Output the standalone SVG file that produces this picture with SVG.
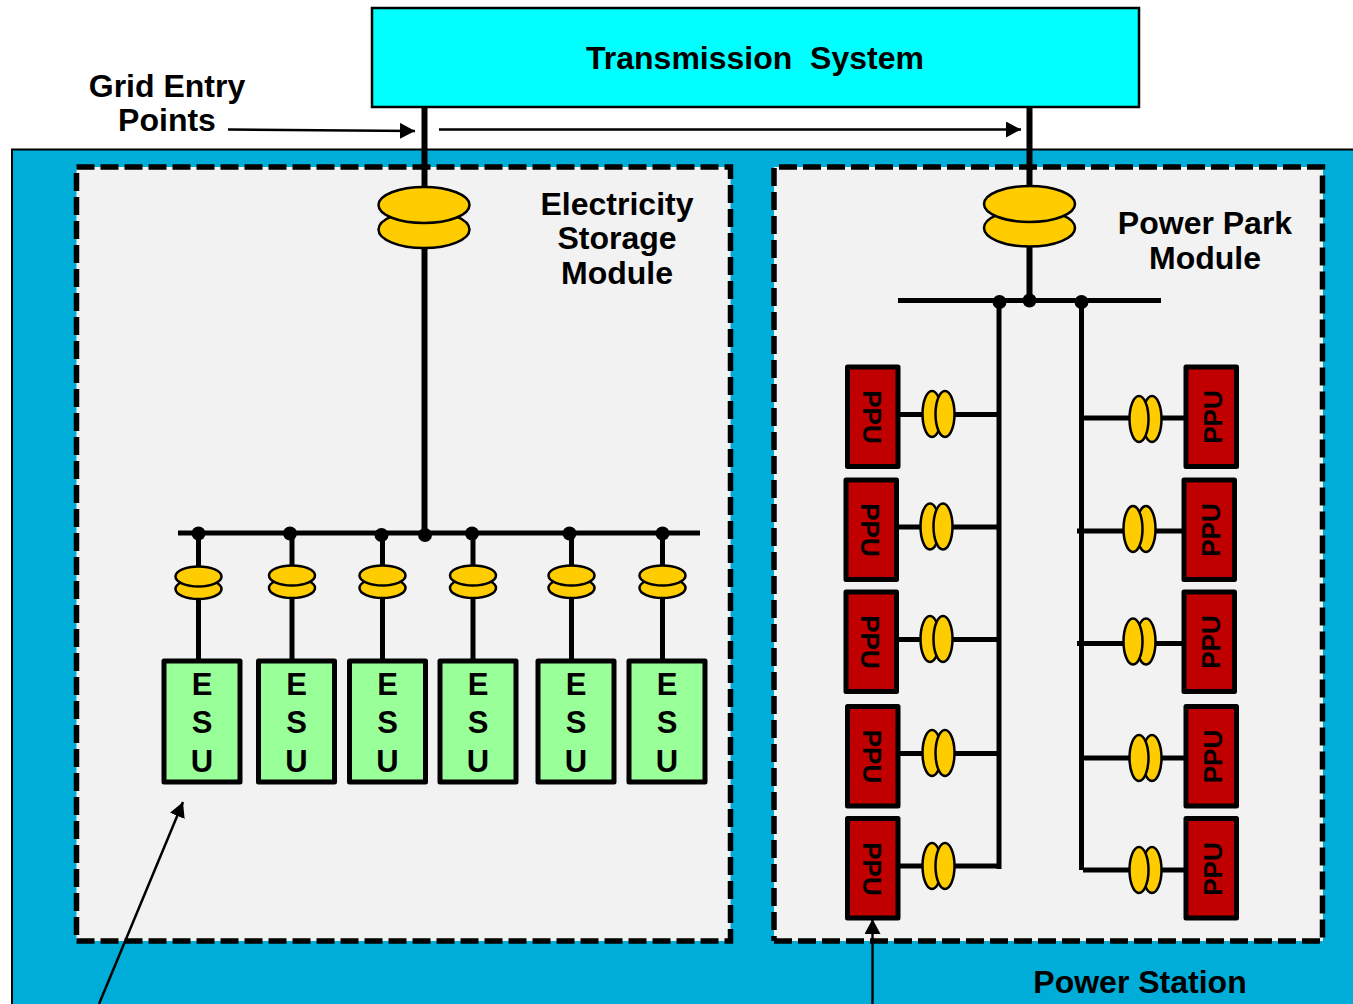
<svg xmlns="http://www.w3.org/2000/svg" width="1353" height="1004" viewBox="0 0 1353 1004">
<style>
text{font-family:"Liberation Sans",Arial,sans-serif;font-weight:700;fill:#000;text-anchor:middle}
.lbl{font-size:32px}
.esu{fill:#99ff99;stroke:#000;stroke-width:5;stroke-linejoin:round}
.ppu{fill:#c00000;stroke:#000;stroke-width:5;stroke-linejoin:round}
.esut{font-size:31px}
.ppt{font-size:26px}
.xf{fill:#ffcc00;stroke:#000;stroke-width:2.5}
.bus{stroke:#000;stroke-width:5;fill:none}
.thin{stroke:#000;stroke-width:2.4;fill:none}
.mod{fill:#f2f2f2;stroke:#000;stroke-width:5.5;stroke-dasharray:18 6}
.edge{fill:none;stroke:#000;stroke-width:5.5;stroke-dasharray:18 6}
</style>
<defs>
<marker id="ah" markerUnits="userSpaceOnUse" markerWidth="16" markerHeight="16" refX="15" refY="8" orient="auto"><path d="M0 0L15 8L0 16Z" fill="#000"/></marker>
</defs>
<rect width="1353" height="1004" fill="#fff"/>
<g id="power-station"><rect x="12" y="149.500" width="1360" height="880" fill="#00acd8" stroke="#000" stroke-width="2"/></g>
<g id="electricity-storage-module"><rect class="mod" x="76.500" y="167" width="654" height="774"/></g>
<g id="power-park-module"><rect x="774" y="167" width="549" height="774" fill="#f2f2f2"/>
<path class="edge" d="M779 167H1322.500V941H774"/><path class="edge" d="M774 930V168"/><path class="edge" d="M774 941V936"/></g>
<g id="transmission-system"><rect x="372" y="8" width="767" height="99" fill="#00ffff" stroke="#000" stroke-width="2.5"/>
<text class="lbl" x="755" y="69" xml:space="preserve">Transmission  System</text></g>
<g id="connectors">
<path class="bus" style="stroke-width:6" d="M424.500 107V190M424.500 245V533M1029.500 107V190M1029.500 245V300"/>
<path class="bus" d="M178 533H700M898 300.500H1161"/>
<path class="bus" d="M198.500 533V660M292 533V660M382.500 533V660M473 533V660M571.500 533V660M662.500 533V660"/>
<path class="bus" d="M999 301V869M1081.500 301V870"/>
<path class="bus" d="M898 414.500H999M896 527H999M896 639.500H999M898 753.500H999M898 866H1001M1081 418H1186M1077 531H1184M1077 643.500H1184M1081 758H1186M1083 870H1186"/>
<g fill="#000"><circle cx="198.500" cy="533.500" r="7"/><circle cx="290" cy="533.500" r="7"/><circle cx="381.500" cy="535" r="7"/><circle cx="425" cy="535" r="7"/><circle cx="472" cy="533.500" r="7"/><circle cx="569.500" cy="533.500" r="7"/><circle cx="662.500" cy="533.500" r="7"/><circle cx="999.500" cy="302" r="7"/><circle cx="1029.500" cy="300.500" r="7"/><circle cx="1081.500" cy="302" r="7"/></g>
<path class="thin" marker-end="url(#ah)" d="M228 129.500L415 131"/>
<path class="thin" marker-end="url(#ah)" d="M439 129.500H1021"/>
<path class="thin" style="stroke-width:2.500" marker-end="url(#ah)" d="M99 1004L183 802"/>
<path class="thin" marker-end="url(#ah)" d="M872.500 1004V919"/>
</g>
<g id="xf-main-1"><ellipse class="xf" cx="424" cy="229.500" rx="45.500" ry="18.500"/><ellipse class="xf" cx="424" cy="205" rx="45.500" ry="18"/></g>
<g id="xf-main-2"><ellipse class="xf" cx="1029.500" cy="228" rx="45.500" ry="18.500"/><ellipse class="xf" cx="1029.500" cy="204" rx="45.500" ry="18"/></g>
<g id="xf-esu-1"><ellipse class="xf" cx="198.500" cy="589" rx="23" ry="10"/><ellipse class="xf" cx="198.500" cy="576.500" rx="23" ry="10"/></g>
<g id="xf-esu-2"><ellipse class="xf" cx="292" cy="588" rx="23" ry="10"/><ellipse class="xf" cx="292" cy="575.500" rx="23" ry="10"/></g>
<g id="xf-esu-3"><ellipse class="xf" cx="382.500" cy="588" rx="23" ry="10"/><ellipse class="xf" cx="382.500" cy="575.500" rx="23" ry="10"/></g>
<g id="xf-esu-4"><ellipse class="xf" cx="473" cy="588" rx="23" ry="10"/><ellipse class="xf" cx="473" cy="575.500" rx="23" ry="10"/></g>
<g id="xf-esu-5"><ellipse class="xf" cx="571.500" cy="588" rx="23" ry="10"/><ellipse class="xf" cx="571.500" cy="575.500" rx="23" ry="10"/></g>
<g id="xf-esu-6"><ellipse class="xf" cx="662.500" cy="588" rx="23" ry="10"/><ellipse class="xf" cx="662.500" cy="575.500" rx="23" ry="10"/></g>
<g id="xf-l1"><ellipse class="xf" cx="932" cy="414" rx="9.500" ry="23"/><ellipse class="xf" cx="945" cy="414" rx="9.500" ry="23"/></g>
<g id="xf-l2"><ellipse class="xf" cx="930" cy="526.500" rx="9.500" ry="23"/><ellipse class="xf" cx="943" cy="526.500" rx="9.500" ry="23"/></g>
<g id="xf-l3"><ellipse class="xf" cx="930" cy="639" rx="9.500" ry="23"/><ellipse class="xf" cx="943" cy="639" rx="9.500" ry="23"/></g>
<g id="xf-l4"><ellipse class="xf" cx="932" cy="753" rx="9.500" ry="23"/><ellipse class="xf" cx="945" cy="753" rx="9.500" ry="23"/></g>
<g id="xf-l5"><ellipse class="xf" cx="932" cy="866" rx="9.500" ry="23"/><ellipse class="xf" cx="945" cy="866" rx="9.500" ry="23"/></g>
<g id="xf-r1"><ellipse class="xf" cx="1152" cy="419" rx="9.500" ry="23"/><ellipse class="xf" cx="1139" cy="419" rx="9.500" ry="23"/></g>
<g id="xf-r2"><ellipse class="xf" cx="1146" cy="529" rx="9.500" ry="23"/><ellipse class="xf" cx="1133" cy="529" rx="9.500" ry="23"/></g>
<g id="xf-r3"><ellipse class="xf" cx="1146" cy="641.500" rx="9.500" ry="23"/><ellipse class="xf" cx="1133" cy="641.500" rx="9.500" ry="23"/></g>
<g id="xf-r4"><ellipse class="xf" cx="1152" cy="758" rx="9.500" ry="23"/><ellipse class="xf" cx="1139" cy="758" rx="9.500" ry="23"/></g>
<g id="xf-r5"><ellipse class="xf" cx="1152" cy="870" rx="9.500" ry="23"/><ellipse class="xf" cx="1139" cy="870" rx="9.500" ry="23"/></g>
<g id="esu-1"><rect class="esu" x="164" y="661" width="76" height="121"/><text class="esut" x="202" y="695">E</text><text class="esut" x="202" y="733">S</text><text class="esut" x="202" y="772">U</text></g>
<g id="esu-2"><rect class="esu" x="258.500" y="661" width="76" height="121"/><text class="esut" x="296.500" y="695">E</text><text class="esut" x="296.500" y="733">S</text><text class="esut" x="296.500" y="772">U</text></g>
<g id="esu-3"><rect class="esu" x="349.500" y="661" width="76" height="121"/><text class="esut" x="387.500" y="695">E</text><text class="esut" x="387.500" y="733">S</text><text class="esut" x="387.500" y="772">U</text></g>
<g id="esu-4"><rect class="esu" x="440" y="661" width="76" height="121"/><text class="esut" x="478" y="695">E</text><text class="esut" x="478" y="733">S</text><text class="esut" x="478" y="772">U</text></g>
<g id="esu-5"><rect class="esu" x="538" y="661" width="76" height="121"/><text class="esut" x="576" y="695">E</text><text class="esut" x="576" y="733">S</text><text class="esut" x="576" y="772">U</text></g>
<g id="esu-6"><rect class="esu" x="629" y="661" width="76" height="121"/><text class="esut" x="667" y="695">E</text><text class="esut" x="667" y="733">S</text><text class="esut" x="667" y="772">U</text></g>
<g id="ppu-l1"><rect class="ppu" x="847.500" y="367" width="50.500" height="99.500"/><text class="ppt" transform="translate(862.500 417) rotate(90)">PPU</text></g>
<g id="ppu-l2"><rect class="ppu" x="846" y="480" width="50.500" height="99.500"/><text class="ppt" transform="translate(860.500 530) rotate(90)">PPU</text></g>
<g id="ppu-l3"><rect class="ppu" x="846" y="592" width="50.500" height="99.500"/><text class="ppt" transform="translate(860.500 642) rotate(90)">PPU</text></g>
<g id="ppu-l4"><rect class="ppu" x="847.500" y="706.500" width="50.500" height="99.500"/><text class="ppt" transform="translate(862.500 756.500) rotate(90)">PPU</text></g>
<g id="ppu-l5"><rect class="ppu" x="847.500" y="818.500" width="50.500" height="99.500"/><text class="ppt" transform="translate(862.500 869) rotate(90)">PPU</text></g>
<g id="ppu-r1"><rect class="ppu" x="1186" y="367" width="50.500" height="99.500"/><text class="ppt" transform="translate(1221.500 417) rotate(-90)">PPU</text></g>
<g id="ppu-r2"><rect class="ppu" x="1184" y="480" width="50.500" height="99.500"/><text class="ppt" transform="translate(1219.500 530) rotate(-90)">PPU</text></g>
<g id="ppu-r3"><rect class="ppu" x="1184" y="592" width="50.500" height="99.500"/><text class="ppt" transform="translate(1219.500 642) rotate(-90)">PPU</text></g>
<g id="ppu-r4"><rect class="ppu" x="1186" y="706.500" width="50.500" height="99.500"/><text class="ppt" transform="translate(1221.500 756.500) rotate(-90)">PPU</text></g>
<g id="ppu-r5"><rect class="ppu" x="1186" y="818.500" width="50.500" height="99.500"/><text class="ppt" transform="translate(1221.500 869) rotate(-90)">PPU</text></g>
<g id="labels">
<text class="lbl" x="167" y="97">Grid Entry</text><text class="lbl" x="167" y="131">Points</text>
<text class="lbl" x="617" y="215">Electricity</text><text class="lbl" x="617" y="249">Storage</text><text class="lbl" x="617" y="284">Module</text>
<text class="lbl" x="1205" y="234">Power Park</text><text class="lbl" x="1205" y="269">Module</text>
<text class="lbl" x="1140" y="993">Power Station</text>
</g>
</svg>
